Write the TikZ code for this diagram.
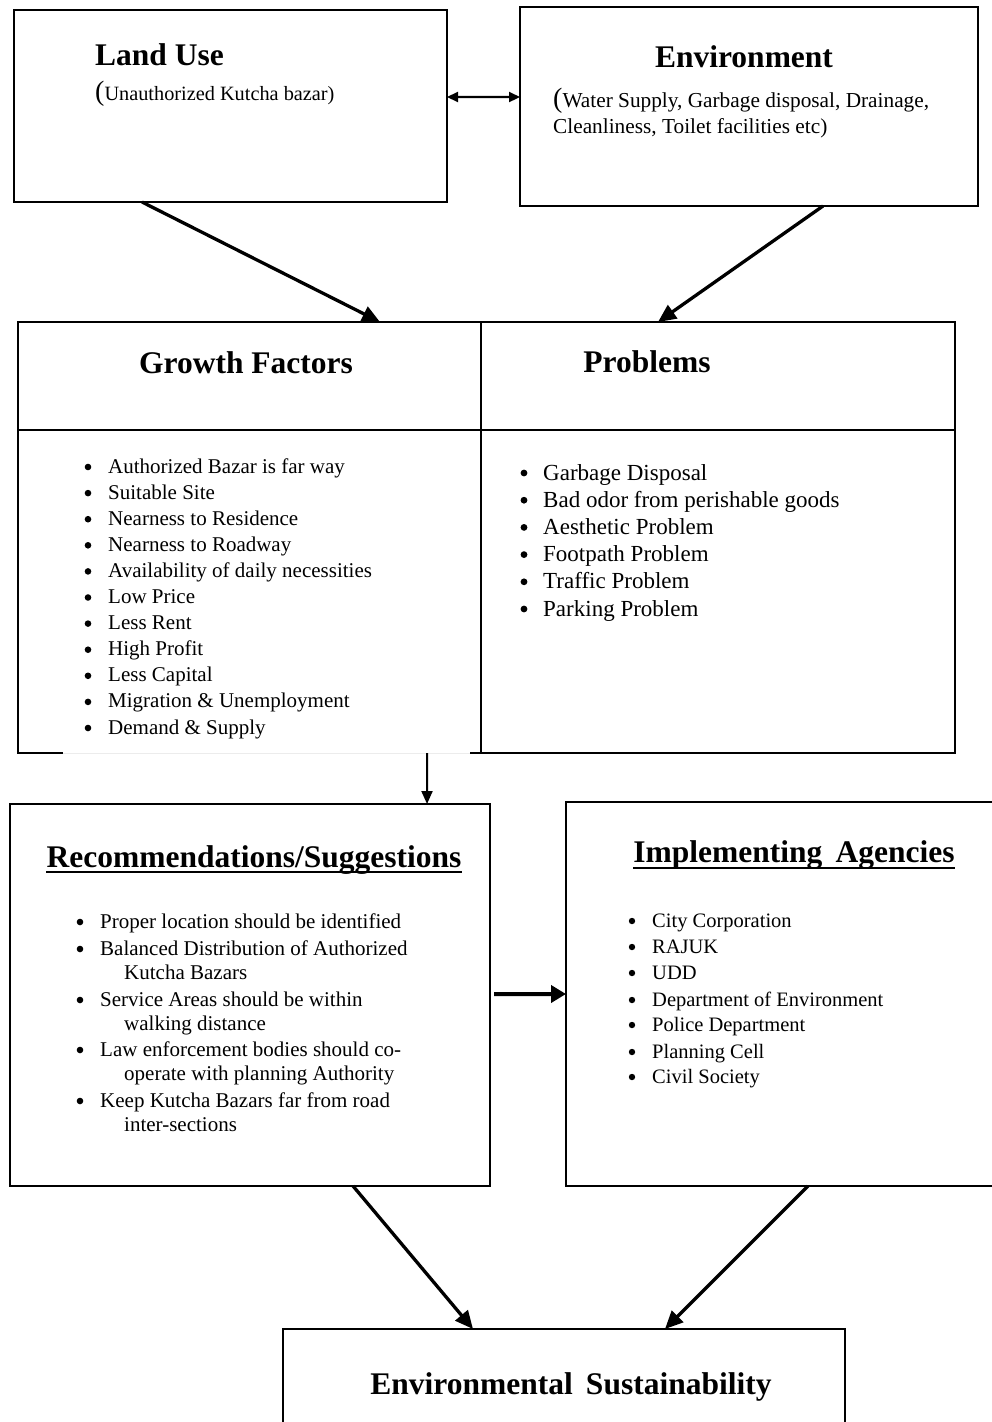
\documentclass[tikz,border=0pt]{standalone}
\usepackage{fontspec}
\setmainfont{Liberation Serif}
\usetikzlibrary{arrows.meta,calc}
\begin{document}
\begin{tikzpicture}[x=1pt,y=-1pt,
  box/.style={draw,line width=1.8pt,inner sep=0pt,outer sep=0pt,anchor=north west},
  ttl/.style={inner sep=0pt,anchor=base,font=\bfseries\fontsize{31.5}{32}\selectfont},
  itm/.style={inner sep=0pt,anchor=base west,font=\fontsize{21}{24}\selectfont},
  bul/.style={fill=black},
  arr/.style={line width=3.3pt,-{Triangle[length=18pt,width=16pt]}},
  thinarr/.style={line width=2pt,-{Triangle[length=13pt,width=11pt]}},
  darr/.style={line width=2.2pt,{Triangle[length=11pt,width=10pt]}-{Triangle[length=11pt,width=10pt]}},
  midarr/.style={line width=4pt,-{Triangle[length=15pt,width=17pt]}},
  uline/.style={line width=2.6pt}]
\useasboundingbox (0,0) rectangle (992,1422);
\fill[white] (0,0) rectangle (992,1422);

% boxes
\node[box,minimum width=433pt,minimum height=192pt] (lu) at (14,10) {};
\node[box,minimum width=458pt,minimum height=199pt] (env) at (520,7) {};
\node[box,minimum width=463pt,minimum height=108pt] (gfh) at (18,322) {};
\node[box,minimum width=474pt,minimum height=108pt] (prh) at (481,322) {};
\node[box,draw=none,minimum width=463pt,minimum height=323pt] (gfb) at (18,430) {};
\node[box,minimum width=474pt,minimum height=323pt] (prb) at (481,430) {};
\node[box,minimum width=480pt,minimum height=382pt] (rec) at (10,804) {};
\node[box,minimum width=432pt,minimum height=384pt] (imp) at (566,802) {};
\node[box,minimum width=562pt,minimum height=110pt] (es) at (283,1329) {};

% growth factors body border with gap at the bottom
\draw[line width=1.8pt] (gfb.north west) -- (gfb.south west) -- ++(45,0);
\draw[line width=1.8pt] (gfb.south east) -- ++(-11,0);
\draw[gray!15,line width=1pt] ([xshift=45pt]gfb.south west) -- ([xshift=-11pt]gfb.south east);

% titles
\node[ttl,anchor=base west] (lut) at (95,65) {Land Use};
\node[itm,font=\fontsize{20.3}{24}\selectfont] (lus) at (95,100) {{\fontsize{28}{28}\selectfont(}Unauthorized Kutcha bazar)};
\node[ttl] (envt) at (744,67) {Environment};
\node[itm,font=\fontsize{21.3}{24}\selectfont] (envs1) at (553,107) {{\fontsize{28}{28}\selectfont(}Water Supply, Garbage disposal, Drainage,};
\node[itm,font=\fontsize{21.3}{24}\selectfont] (envs2) at (553,133) {Cleanliness, Toilet facilities etc)};
\node[ttl] (gft) at (246,373) {Growth Factors};
\node[ttl] (prt) at (647,372) {Problems};
\node[ttl] (rect) at (254,867) {Recommendations/Suggestions};
\draw[uline] ([yshift=-5pt]rect.base west) -- ([yshift=-5pt]rect.base east);
\node[ttl] (impt) at (794,862) {Implementing\, Agencies};
\draw[uline] ([yshift=-6pt]impt.base west) -- ([yshift=-6pt]impt.base east);
\node[ttl] (est) at (571,1394) {Environmental\, Sustainability};

% growth factors list
\foreach \t [count=\i] in {Authorized Bazar is far way, Suitable Site, Nearness to Residence, Nearness to Roadway, Availability of daily necessities, Low Price, Less Rent, High Profit, Less Capital, Migration \& Unemployment, Demand \& Supply}{
  \node[itm] (g\i) at (108,{473+26.1*(\i-1)}) {\t};
  \fill[bul] (88,{473+26.1*(\i-1)-6}) circle (3.3pt);
}

% problems list
\foreach \t [count=\i] in {Garbage Disposal, Bad odor from perishable goods, Aesthetic Problem, Footpath Problem, Traffic Problem, Parking Problem}{
  \node[itm,font=\fontsize{23}{26}\selectfont] (p\i) at (543,{480+27.2*(\i-1)}) {\t};
  \fill[bul] (524,{480+27.2*(\i-1)-7}) circle (3.4pt);
}

% recommendations list
\foreach \t/\yy in {Proper location should be identified/928, Balanced Distribution of Authorized/955, Service Areas should be within/1006, Law enforcement bodies should co-/1056, Keep Kutcha Bazars far from road/1107}
  \fill[bul] (80,\yy-6) circle (3.3pt);
\node[itm] (r1) at (100,928) {Proper location should be identified};
\node[itm] (r2) at (100,955) {Balanced Distribution of Authorized};
\node[itm] (r2b) at (124,979) {Kutcha Bazars};
\node[itm] (r3) at (100,1006) {Service Areas should be within};
\node[itm] (r3b) at (124,1030) {walking distance};
\node[itm] (r4) at (100,1056) {Law enforcement bodies should co-};
\node[itm] (r4b) at (124,1080) {operate with planning Authority};
\node[itm] (r5) at (100,1107) {Keep Kutcha Bazars far from road};
\node[itm] (r5b) at (124,1131) {inter-sections};

% implementing agencies list
\foreach \t/\yy [count=\i] in {City Corporation/927, RAJUK/953, UDD/979, Department of Environment/1006, Police Department/1031, Planning Cell/1058, Civil Society/1083}{
  \node[itm,font=\fontsize{20.5}{24}\selectfont] (a\i) at (652,\yy) {\t};
  \fill[bul] (632,\yy-6) circle (3.2pt);
}

% connectors
\draw[darr] ($(lu.north east)!0.4531!(lu.south east)$) -- ($(env.north west)!0.4523!(env.south west)$);
\draw[arr] ($(lu.south west)!0.2956!(lu.south east)$) -- ($(gfh.north west)!0.7819!(gfh.north east)$);
\draw[arr] ($(env.south west)!0.6616!(env.south east)$) -- ($(prh.north west)!0.3734!(prh.north east)$);
\draw[thinarr] ($(gfb.south west)!0.8834!(gfb.south east)$) -- ($(rec.north west)!0.8688!(rec.north east)$);
\draw[midarr,shorten <=4pt] ($(rec.north east)!0.4974!(rec.south east)$) -- ($(imp.north west)!0.5!(imp.south west)$);
\draw[arr] ($(rec.south west)!0.7146!(rec.south east)$) -- ($(es.north west)!0.3381!(es.north east)$);
\draw[arr] ($(imp.south west)!0.5602!(imp.south east)$) -- ($(es.north west)!0.6797!(es.north east)$);
\end{tikzpicture}
\end{document}
